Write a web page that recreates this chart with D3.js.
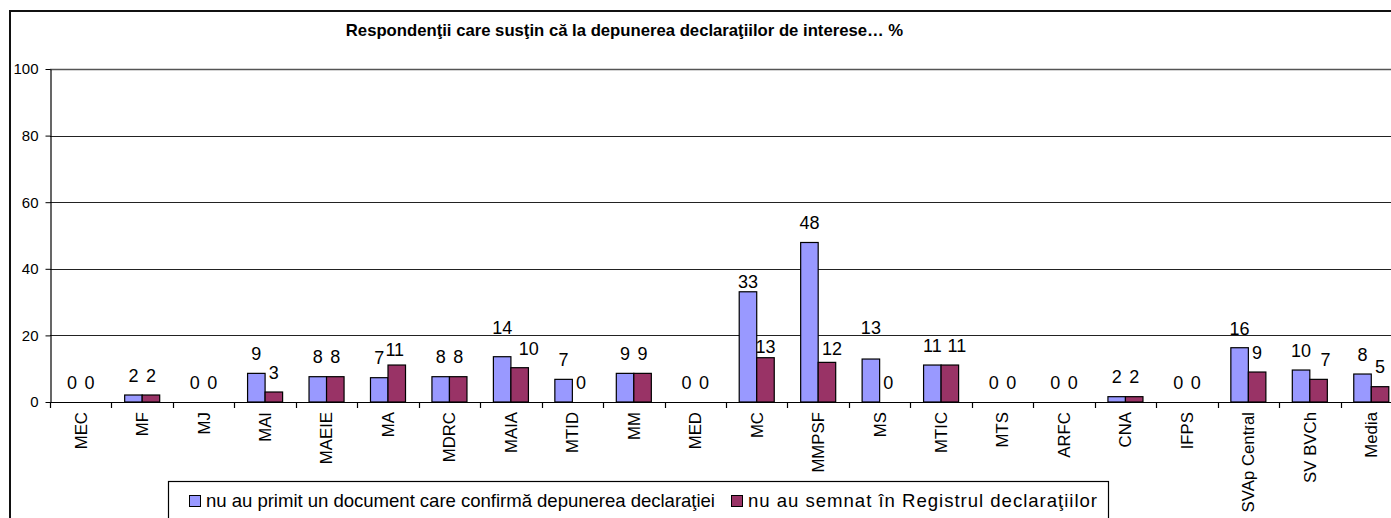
<!DOCTYPE html>
<html>
<head>
<meta charset="utf-8">
<script src="https://cdn.jsdelivr.net/npm/d3@7"></script>
<style>
  html, body { margin: 0; padding: 0; background: #fff; overflow: hidden; }
  svg { display: block; font-family: "Liberation Sans", Arial, sans-serif; }
</style>
</head>
<body>
<svg id="chart" width="1391" height="518"></svg>
<script>
// ---- data ----
const categories = ["MEC","MF","MJ","MAI","MAEIE","MA","MDRC","MAIA","MTID","MM","MED","MC","MMPSF","MS","MTIC","MTS","ARFC","CNA","IFPS","SVAp Central","SV BVCh","Media"];
const seriesNames = ["nu au primit un document care confirmă depunerea declaraţiei","nu au semnat în Registrul declaraţiilor"];
const notReceived = [0, 2.1, 0, 8.6, 7.6, 7.3, 7.6, 13.6, 6.8, 8.6, 0, 33.1, 47.9, 12.9, 11.1, 0, 0, 1.6, 0, 16.3, 9.6, 8.4];
const notSigned   = [0, 2.1, 0, 3.0, 7.6, 11.1, 7.6, 10.3, 0, 8.6, 0, 13.3, 11.9, 0, 11.1, 0, 0, 1.6, 0, 9.0, 6.8, 4.6];
const yTicks = [0, 20, 40, 60, 80, 100];
const title = "Respondenţii care susţin că la depunerea declaraţiilor de interese… %";

// ---- layout (not data) ----
const colors = ["#9999FF", "#993366"];
const plot = { left: 50, right: 1402, top: 69, bottom: 402 };
// manual label nudges as placed in the original chart: "category|seriesIndex" -> [dx, dy]
const labelNudge = {
  "MAIA|0": [0, -10], "MAIA|1": [9, 0],
  "MS|0": [0, -12],
  "MC|0": [0, 9], "MC|1": [0, 8.5],
  "MMPSF|1": [5, 5.5],
  "MA|1": [-2, 4],
  "MTIC|1": [7, 0],
  "SV BVCh|1": [7, 0]
};

const svg = d3.select("#chart");

// outer chart border
svg.append("rect").attr("x", 10).attr("y", 11).attr("width", 1500).attr("height", 600)
  .attr("fill", "none").attr("stroke", "#111").attr("stroke-width", 2);

const x0 = d3.scaleBand().domain(categories).range([plot.left, plot.right])
  .paddingInner(0.43).paddingOuter(0.215);
const x1 = d3.scaleBand().domain([0, 1]).range([0, x0.bandwidth()]);
const y = d3.scaleLinear().domain([0, 100]).range([plot.bottom, plot.top]);

// gridlines
svg.append("g").selectAll("line").data(yTicks.filter(d => d > 0)).join("line")
  .attr("x1", plot.left).attr("x2", plot.right)
  .attr("y1", d => Math.round(y(d)) + 0.5).attr("y2", d => Math.round(y(d)) + 0.5)
  .attr("stroke", d => d === 100 ? "#555" : "#222").attr("stroke-width", d => d === 100 ? 1.6 : 1.2);

// y axis
const yAxis = svg.append("g").attr("transform", `translate(${plot.left + 0.5},0)`)
  .call(d3.axisLeft(y).tickValues(yTicks).tickSize(5).tickPadding(7).tickSizeOuter(0));
yAxis.select(".domain").attr("stroke", "#000").attr("stroke-width", 1.2);
yAxis.selectAll(".tick line").attr("stroke", "#000");
yAxis.selectAll("text").attr("font-size", 15).attr("fill", "#000")
  .attr("font-family", "Liberation Sans, Arial, sans-serif");

// bars
const rows = categories.map((c, i) => ({ c, vals: [notReceived[i], notSigned[i]] }));
const groups = svg.append("g").selectAll("g").data(rows).join("g")
  .attr("transform", d => `translate(${x0(d.c)},0)`);
groups.selectAll("rect").data(d => d.vals.map((v, k) => ({ v, k, c: d.c }))).join("rect")
  .attr("x", d => x1(d.k)).attr("width", x1.bandwidth())
  .attr("y", d => y(d.v)).attr("height", d => y(0) - y(d.v))
  .attr("fill", d => colors[d.k]).attr("stroke", "#000").attr("stroke-width", 1.2)
  .attr("display", d => d.v > 0 ? null : "none");

// data labels
groups.selectAll("text").data(d => d.vals.map((v, k) => ({ v, k, c: d.c }))).join("text")
  .attr("x", d => x1(d.k) + x1.bandwidth() / 2 + ((labelNudge[d.c + "|" + d.k] || [0, 0])[0]))
  .attr("y", d => y(d.v) - 19.5 + ((labelNudge[d.c + "|" + d.k] || [0, 0])[1]))
  .attr("dy", "0.35em").attr("text-anchor", "middle")
  .attr("font-size", 18).attr("fill", "#000")
  .text(d => Math.round(d.v));

// x axis line and boundary ticks
svg.append("line").attr("x1", plot.left).attr("x2", plot.right)
  .attr("y1", plot.bottom + 0.5).attr("y2", plot.bottom + 0.5)
  .attr("stroke", "#000").attr("stroke-width", 1.2);
const boundaries = d3.range(categories.length + 1).map(k => plot.left + k * x0.step());
svg.append("g").selectAll("line").data(boundaries).join("line")
  .attr("x1", d => Math.round(d) + 0.5).attr("x2", d => Math.round(d) + 0.5)
  .attr("y1", plot.bottom).attr("y2", plot.bottom + 6)
  .attr("stroke", "#000").attr("stroke-width", 1.2);

// category labels (rotated)
svg.append("g").selectAll("text").data(categories).join("text")
  .attr("transform", d => `translate(${x0(d) + x0.bandwidth() / 2},412) rotate(-90)`)
  .attr("text-anchor", "end").attr("dy", "0.35em")
  .attr("font-size", 16.8).attr("fill", "#000")
  .text(d => d);

// title
svg.append("text").attr("x", 624.5).attr("y", 36).attr("text-anchor", "middle")
  .attr("font-size", 16.7).attr("font-weight", "bold").attr("fill", "#000")
  .text(title);

// legend
const legend = svg.append("g");
legend.append("rect").attr("x", 168.5).attr("y", 481.5).attr("width", 940).attr("height", 60)
  .attr("fill", "#fff").attr("stroke", "#000").attr("stroke-width", 1.2);
const legendX = [189, 731];
const legendLen = [509, 349];
seriesNames.forEach((name, k) => {
  legend.append("rect").attr("x", legendX[k] + 0.5).attr("y", 495.5).attr("width", 11).attr("height", 11)
    .attr("fill", colors[k]).attr("stroke", "#000").attr("stroke-width", 1);
  legend.append("text").attr("x", legendX[k] + 17).attr("y", 507)
    .attr("font-size", 18.6).attr("fill", "#000")
    .attr("textLength", legendLen[k]).attr("lengthAdjust", "spacing")
    .text(name);
});
</script>
</body>
</html>
